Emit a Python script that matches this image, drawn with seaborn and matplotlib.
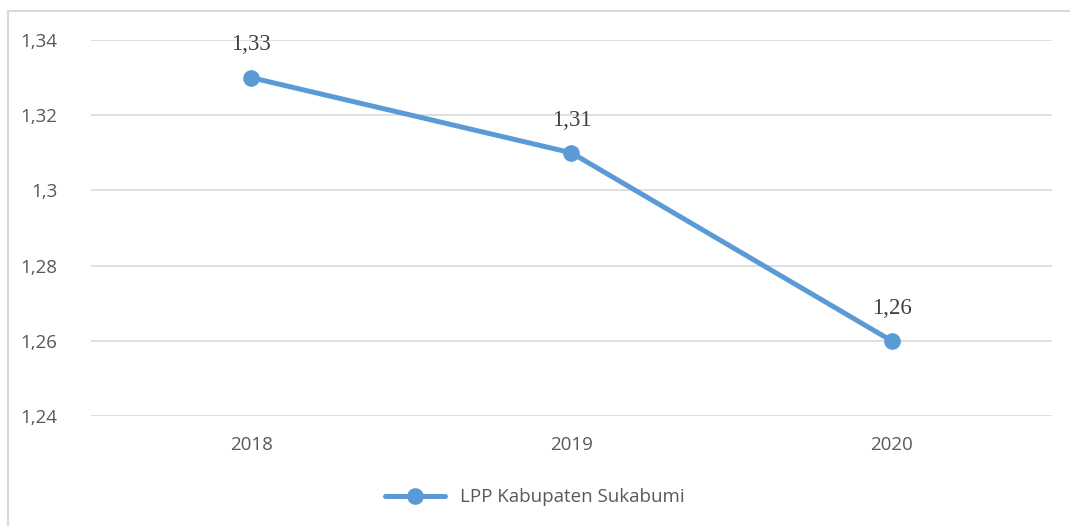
import matplotlib
matplotlib.use('Agg')
import matplotlib.pyplot as plt
import seaborn as sns
import pandas as pd
from matplotlib.patches import Rectangle

# Data
years = ['2018', '2019', '2020']
lpp = [1.33, 1.31, 1.26]
series_name = 'LPP Kabupaten Sukabumi'

df = pd.DataFrame({'year': years, 'lpp': lpp})

sns.set_style('white')
plt.rcParams['font.family'] = ['Open Sans', 'DejaVu Sans']

fig = plt.figure(figsize=(10.7, 5.26), dpi=100)
ax = fig.add_axes([0.085, 0.209, 0.898, 0.715])

sns.lineplot(data=df, x='year', y='lpp', marker='o', color='#5B9BD5',
             linewidth=3.6, markersize=12, markeredgewidth=0, label=series_name, ax=ax)

# Data labels
for x, y in zip(years, lpp):
    ax.annotate(f'{y:.2f}'.replace('.', ','), (x, y), xytext=(0, 16),
                textcoords='offset points', ha='center', va='bottom',
                fontsize=16.5, color='#404040', family=['Liberation Serif'])

ax.set_xlim(-0.5, 2.5)
ax.set_ylim(1.24, 1.34)
yt = [1.24, 1.26, 1.28, 1.30, 1.32, 1.34]
ax.set_yticks(yt)
ax.set_yticklabels(['1,24', '1,26', '1,28', '1,3', '1,32', '1,34'])
ax.set_xlabel('')
ax.set_ylabel('')
ax.grid(axis='y', color='#D9D9D9', linewidth=1.2)
ax.set_axisbelow(True)
for s in ax.spines.values():
    s.set_visible(False)
ax.tick_params(axis='both', length=0, labelsize=13.5, labelcolor='#595959')
ax.tick_params(axis='x', pad=14)
ax.tick_params(axis='y', pad=24)

ax.legend(loc='center', bbox_to_anchor=(0.5, 0.055), bbox_transform=fig.transFigure,
          frameon=False, fontsize=13.5, labelcolor='#595959', handlelength=3.2)

# Chart border
fig.patches.append(Rectangle((8 / 1070, -0.2), 1.2, 1.2 - 11 / 526, transform=fig.transFigure,
                             fill=False, edgecolor='#D9D9D9', linewidth=1.5))

fig.savefig('out.png', dpi=100)
